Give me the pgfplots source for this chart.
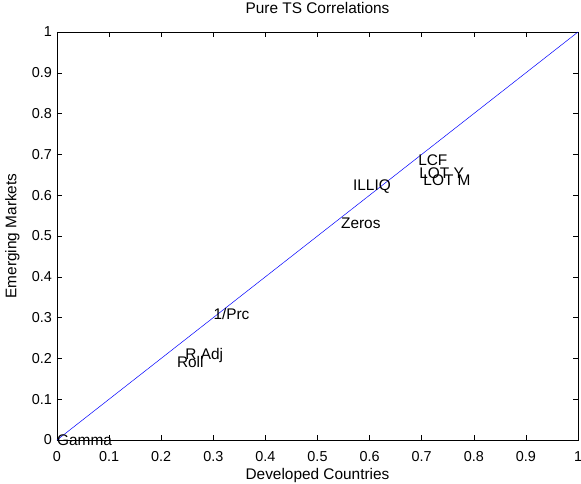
\documentclass[border=0pt]{standalone}
\usepackage{fontspec}
\setmainfont{Liberation Sans}
\usepackage{pgfplots}
\pgfplotsset{compat=1.18}

\begin{document}
\begin{tikzpicture}
\begin{axis}[
  scale only axis,
  width=521bp, height=408bp,
  xmin=0, xmax=1, ymin=0, ymax=1,
  xtick={0,0.1,...,1}, ytick={0,0.1,...,1},
  xticklabels={0,0.1,0.2,0.3,0.4,0.5,0.6,0.7,0.8,0.9,1},
  yticklabels={0,0.1,0.2,0.3,0.4,0.5,0.6,0.7,0.8,0.9,1},
  tick align=inside,
  major tick length=5bp,
  tick style={black, line width=0.5bp},
  axis line style={line width=0.5bp},
  every tick label/.append style={font=\fontsize{14.4bp}{16bp}\selectfont, inner sep=0pt},
  xticklabel style={anchor=center, yshift=-17bp},
  yticklabel style={anchor=east, xshift=-5bp},
  title={Pure TS Correlations},
  title style={font=\fontsize{15.4bp}{17bp}\selectfont, at={(axis description cs:0.5,1.0441)}, anchor=center},
  xlabel={Developed Countries},
  ylabel={Emerging Markets},
  xlabel style={font=\fontsize{15.4bp}{17bp}\selectfont, at={(axis description cs:0.5,-0.088)}, anchor=center},
  ylabel style={font=\fontsize{15.4bp}{17bp}\selectfont, at={(axis description cs:-0.0854,0.5)}, anchor=center, rotate=0},
  clip=false,
  nodes near coords,
  point meta=explicit symbolic,
  every node near coord/.style={anchor=west, inner sep=0pt, black, font=\fontsize{15.4bp}{17bp}\selectfont},
]
\addplot[blue, line width=0.5bp] coordinates {(0,0) (1,1)};
\addplot[only marks, mark=none] coordinates {
  (0.693,0.685) [LCF]
  (0.695,0.654) [LOT Y]
  (0.703,0.637) [LOT M]
  (0.568,0.620) [ILLIQ]
  (0.545,0.532) [Zeros]
  (0.300,0.309) [1/Prc]
  (0.246,0.208) [R Adj]
  (0.230,0.191) [Roll]
  (0.000,0.000) [Gamma]
};
\end{axis}
\pgfresetboundingbox
\path (current axis.south west) ++(-57bp,-44bp) coordinate (bl);
\path (current axis.north east) ++(3bp,32bp) coordinate (tr);
\useasboundingbox (bl) rectangle (tr);
\end{tikzpicture}
\end{document}
